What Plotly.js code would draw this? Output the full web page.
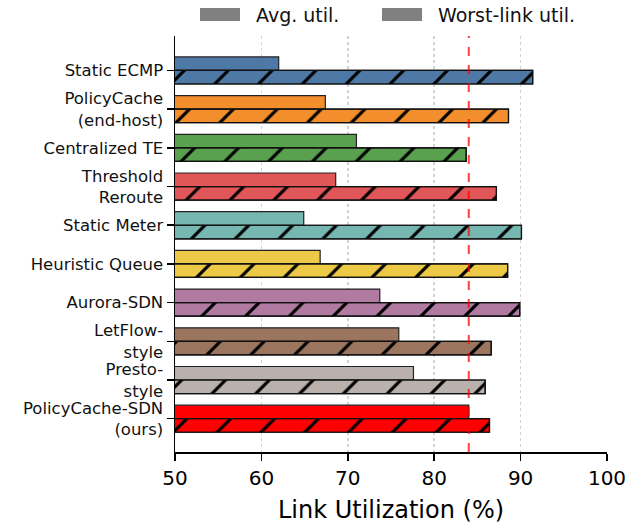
<!DOCTYPE html>
<html>
<head>
<meta charset="utf-8">
<script src="https://cdn.plot.ly/plotly-3.0.1.min.js"></script>
<style>html,body{margin:0;padding:0;background:#fff;}#chart{width:641px;height:527px;}</style>
</head>
<body>
<div id="chart"></div>
<script>
const categories = ["Static ECMP", "PolicyCache<br>(end-host)", "Centralized TE", "Threshold<br>Reroute", "Static Meter", "Heuristic Queue", "Aurora-SDN", "LetFlow-<br>style", "Presto-<br>style", "PolicyCache-SDN<br>(ours)"];
const avgUtil = [62.0, 67.4, 71.0, 68.6, 64.9, 66.8, 73.7, 75.9, 77.6, 84.0];
const worstUtil = [91.4, 88.6, 83.7, 87.2, 90.1, 88.5, 89.9, 86.6, 85.9, 86.4];
const colors = ["#4e79a7", "#f28e2b", "#59a14f", "#e15759", "#76b7b2", "#edc948", "#b07aa1", "#9c755f", "#bab0ac", "#ff0000"];
const seriesNames = ["Avg. util.", "Worst-link util."];
const threshold = 84;
const xTicks = [50, 60, 70, 80, 90, 100];

const font = "DejaVu Sans, sans-serif";
const barW = 0.35;

const traces = [
  {
    type: "bar", orientation: "h", x: avgUtil, y: categories, name: seriesNames[0],
    offset: -barW, width: barW,
    marker: {color: colors, line: {color: "#222", width: 1.2}},
    hoverinfo: "skip"
  },
  {
    type: "bar", orientation: "h", x: worstUtil, y: categories, name: seriesNames[1],
    offset: 0, width: barW,
    marker: {color: colors, line: {color: "#111", width: 1.2}},
    hoverinfo: "skip"
  },
  {
    type: "bar", orientation: "h", x: worstUtil, y: categories, name: seriesNames[1] + " hatch",
    offset: 0, width: barW,
    marker: {color: "rgba(0,0,0,0)", line: {color: "#111", width: 1.2},
      pattern: {shape: "/", fgcolor: "#000", bgcolor: "rgba(0,0,0,0)", fgopacity: 1,
                size: 31, solidity: 0.1, fillmode: "replace"}},
    hoverinfo: "skip"
  }
];

// legend drawn as swatches + labels (paper coords: plot spans x 175..607 px, y 36..452 px)
const W = 432, H = 416, L = 175, B = 452;
const px = v => (v - L) / W;
const py = v => (B - v) / H;
const legendShapes = [
  {type: "rect", xref: "paper", yref: "paper", x0: px(200), x1: px(240), y0: py(21), y1: py(8),
   fillcolor: "#808080", line: {width: 0}},
  {type: "rect", xref: "paper", yref: "paper", x0: px(382), x1: px(422), y0: py(21), y1: py(8),
   fillcolor: "#808080", line: {width: 0}}
];
const legendAnnots = [
  {xref: "paper", yref: "paper", x: px(254), y: py(15), xanchor: "left", yanchor: "middle",
   text: seriesNames[0], showarrow: false, font: {size: 19, family: font, color: "#111"}},
  {xref: "paper", yref: "paper", x: px(436), y: py(15), xanchor: "left", yanchor: "middle",
   text: seriesNames[1], showarrow: false, font: {size: 19, family: font, color: "#111"}}
];

const layout = {
  width: 641, height: 527,
  margin: {l: 175, r: 34, t: 36, b: 75},
  paper_bgcolor: "#fff", plot_bgcolor: "#fff",
  font: {family: font, color: "#000"},
  showlegend: false,
  barmode: "overlay",
  xaxis: {
    range: [50, 100], tickvals: xTicks, ticktext: xTicks.map(String),
    showline: true, linecolor: "#000", linewidth: 1.5, mirror: false,
    ticks: "outside", ticklen: 7, tickwidth: 1.5, tickcolor: "#000",
    showgrid: true, gridcolor: "#d2d2d2", griddash: "dot", gridwidth: 1.5,
    zeroline: false,
    tickfont: {size: 20, family: font},
    title: {text: "Link Utilization (%)", font: {size: 24, family: font}, standoff: 12}
  },
  yaxis: {
    type: "category", categoryorder: "array", categoryarray: categories,
    range: [9.86, -0.89],
    showline: true, linecolor: "#000", linewidth: 1.5,
    ticks: "outside", ticklen: 7, tickwidth: 1.5, tickcolor: "#000",
    showgrid: false, zeroline: false,
    tickfont: {size: 16.5, family: font, color: "#111"}
  },
  shapes: [{
    type: "line", xref: "x", yref: "paper", x0: threshold, x1: threshold, y0: 0, y1: 1,
    line: {color: "rgba(255,0,0,0.75)", width: 2, dash: "dash"}
  }].concat(legendShapes),
  annotations: legendAnnots
};

Plotly.newPlot("chart", traces, layout, {displayModeBar: false, staticPlot: true});
</script>
</body>
</html>
